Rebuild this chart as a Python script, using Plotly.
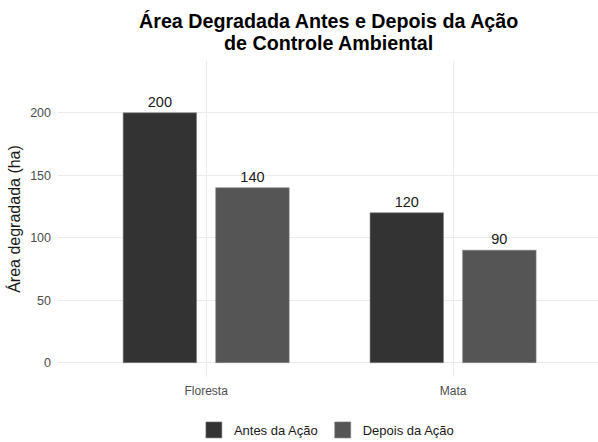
import plotly.graph_objects as go

categories = ["Floresta", "Mata"]
antes = [200, 120]
depois = [140, 90]
series_names = ["Antes da Ação", "Depois da Ação"]
series_colors = ["#333333", "#555555"]
y_ticks = [0, 50, 100, 150, 200]
title_lines = ["Área Degradada Antes e Depois da Ação", "de Controle Ambiental"]

FONT = "Liberation Sans, Arial, sans-serif"

fig = go.Figure()
for name, vals, col in zip(series_names, [antes, depois], series_colors):
    fig.add_trace(go.Bar(
        x=categories, y=vals, name=name, showlegend=False,
        marker=dict(color=col, line=dict(color="#808080", width=0.6)),
        text=[str(v) for v in vals], textposition="outside",
        textfont=dict(size=14.5, color="#1a1a1a", family=FONT),
        cliponaxis=False,
    ))
# legend keys (square swatches)
for name, col in zip(series_names, series_colors):
    fig.add_trace(go.Scatter(
        x=[None], y=[None], mode="markers", name=name,
        marker=dict(symbol="square", size=16, color=col, line=dict(color="#808080", width=0.6)),
    ))

TOP, BOTTOM = 61, 377
def py(p):
    return (BOTTOM - p) / (BOTTOM - TOP)

for line, p in zip(title_lines, [21, 43]):
    fig.add_annotation(
        text="<b>" + line + "</b>", xref="paper", yref="paper",
        x=0.5, y=py(p), xanchor="center", yanchor="middle", showarrow=False,
        font=dict(size=19.7, color="black", family=FONT),
    )

fig.update_layout(
    width=598, height=442,
    paper_bgcolor="white", plot_bgcolor="white",
    margin=dict(l=58, r=0, t=TOP, b=442 - BOTTOM, autoexpand=False),
    barmode="group", bargap=0.25, bargroupgap=0.207,
    font=dict(family=FONT, color="#4d4d4d"),
    legend=dict(
        orientation="h", x=0.497, xanchor="center", xref="paper",
        y=py(430), yanchor="middle",
        font=dict(size=13, color="#1a1a1a", family=FONT),
        traceorder="normal",
    ),
    showlegend=True,
)
fig.update_xaxes(
    range=[-0.6, 1.587], showgrid=True, gridcolor="#ebebeb", gridwidth=1,
    zeroline=False, showline=False, ticks="",
    tickfont=dict(size=12, color="#4d4d4d"), ticklabelstandoff=5,
)
fig.update_yaxes(
    range=[-11.5, 241.5], tickvals=y_ticks, showgrid=True, gridcolor="#ebebeb", gridwidth=1,
    zeroline=False, showline=False, ticks="",
    tickfont=dict(size=12.5, color="#4d4d4d"), ticklabelstandoff=6,
    title=dict(text="Área degradada (ha)", font=dict(size=16, color="#1a1a1a"), standoff=5),
)

fig.write_html(
    "out.html",
    config={"displayModeBar": False},
    post_script="document.body.style.margin='0';document.body.style.overflow='hidden';",
)
